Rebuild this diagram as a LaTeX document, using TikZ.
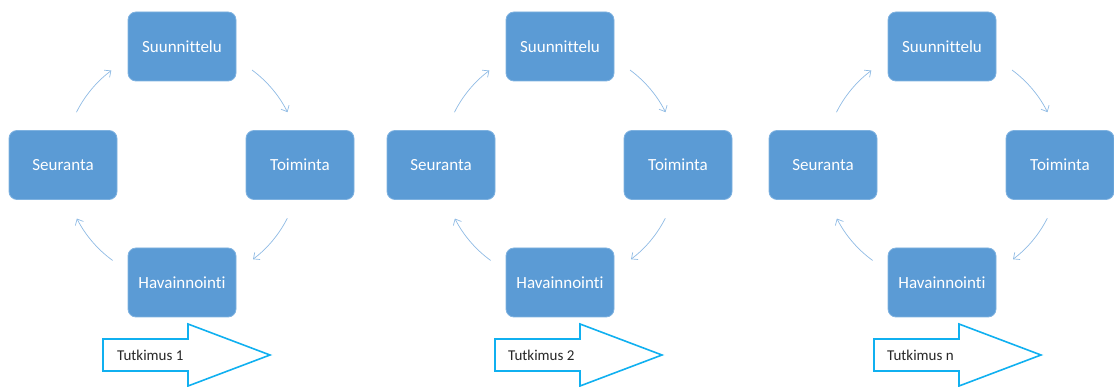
\documentclass[tikz,border=0pt]{standalone}
\usepackage{fontspec}
\setmainfont{Carlito}[Ligatures={NoCommon,NoRare,NoContextual}]
\usetikzlibrary{arrows.meta}
\definecolor{boxblue}{HTML}{5B9BD5}
\definecolor{boxedge}{HTML}{7FB2E0}
\definecolor{linkblue}{HTML}{8FBBE4}
\definecolor{bigblue}{HTML}{10B0F0}
\begin{document}
\begin{tikzpicture}[x=1pt,y=1pt,
  stage/.style={draw=boxedge, line width=0.8pt, fill=boxblue, rounded corners=8pt,
    minimum width=108pt, minimum height=69pt, inner sep=0pt, text=white,
    font=\fontsize{17}{20}\selectfont},
  link/.style={draw=linkblue, line width=0.7pt, -{Straight Barb[length=5pt,width=9pt]}},
  bigarrow/.style={draw=bigblue, line width=1.6pt, fill=white, line join=miter},
  arrowtext/.style={anchor=west, inner sep=0pt, text=black!85,
    font=\fontsize{15}{18}\selectfont}
]
\useasboundingbox (0,0) rectangle (1114,-387);

\foreach \o/\i/\ax/\lab/\tx in {0/1/103/1/14, 378/2/495/2/13, 760/3/874/n/13}{
  \coordinate (c\i) at (182+\o,-165);
  \node[stage] (su\i) at (182+\o,-46.5) {Suunnittelu};
  \node[stage] (to\i) at (300+\o,-165) {Toiminta};
  \node[stage] (ha\i) at (182+\o,-282.5) {Havainnointi};
  \node[stage] (se\i) at (63+\o,-165) {Seuranta};
  % cycle connectors
  \draw[link] ([shift={(53.6:118)}]c\i) arc[start angle=53.6, end angle=26.6, radius=118];
  \draw[link] ([shift={(-26.8:118)}]c\i) arc[start angle=-26.8, end angle=-53, radius=118];
  \draw[link] ([shift={(-126:118)}]c\i) arc[start angle=-126, end angle=-153, radius=118];
  \draw[link] ([shift={(153.4:118)}]c\i) arc[start angle=153.4, end angle=126.8, radius=118];
  % big arrow
  \coordinate (ba\i) at (\ax,-355);
  \draw[bigarrow] (ba\i) ++(0,16) -- ++(85,0) -- ++(0,15) -- ++(82,-31)
     -- ++(-82,-31) -- ++(0,15) -- ++(-85,0) -- cycle;
  \node[arrowtext] (tu\i) at ([xshift=\tx]ba\i) {Tutkimus \lab};
}
\end{tikzpicture}
\end{document}
